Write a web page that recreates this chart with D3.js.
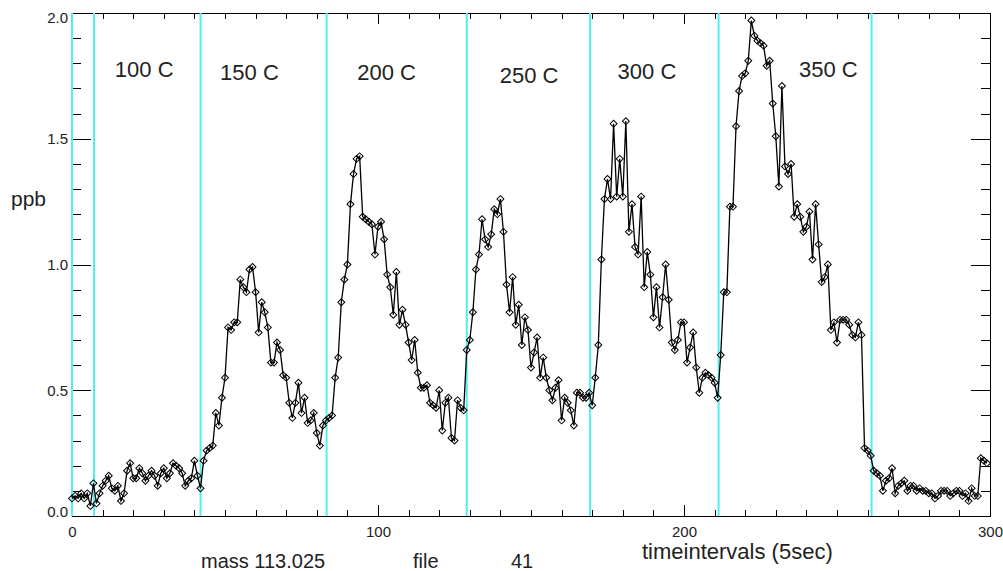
<!DOCTYPE html>
<html lang="en">
<head>
    <meta charset="UTF-8">
    <title>mass 113.025 - ppb vs timeintervals</title>
    <script src="https://d3js.org/d3.v7.min.js"></script>
    <style>
        body {
            margin: 0;
            background-color: #ffffff;
        }

        svg {
            display: block;
            font-family: "Liberation Sans", Arial, sans-serif;
        }

        .axis path {
            display: none;
        }

        .axis line {
            stroke: #000;
            shape-rendering: crispEdges;
        }

        .axis text {
            font-size: 15px;
            fill: #222;
        }
    </style>
</head>
<body>

<svg width="1003" height="571"></svg>

<script>
    // ppb value for each 5 sec time interval (index 0..299)
    const ppb = [
        0.07, 0.08, 0.07, 0.09, 0.07, 0.09, 0.04, 0.13, 0.05, 0.09,
        0.12, 0.14, 0.16, 0.11, 0.10, 0.12, 0.06, 0.09, 0.18, 0.21,
        0.15, 0.15, 0.19, 0.17, 0.14, 0.16, 0.18, 0.16, 0.12, 0.17,
        0.19, 0.15, 0.17, 0.21, 0.20, 0.19, 0.17, 0.12, 0.14, 0.15,
        0.22, 0.16, 0.11, 0.22, 0.26, 0.27, 0.28, 0.41, 0.36, 0.47,
        0.55, 0.75, 0.74, 0.77, 0.77, 0.94, 0.91, 0.89, 0.98, 0.99,
        0.89, 0.73, 0.85, 0.81, 0.75, 0.61, 0.61, 0.69, 0.66, 0.56,
        0.55, 0.45, 0.39, 0.45, 0.53, 0.41, 0.47, 0.37, 0.38, 0.41,
        0.33, 0.28, 0.36, 0.38, 0.39, 0.40, 0.55, 0.63, 0.85, 0.94,
        1.00, 1.24, 1.36, 1.42, 1.43, 1.19, 1.18, 1.17, 1.16, 1.04,
        1.15, 1.17, 1.10, 0.96, 0.91, 0.80, 0.97, 0.76, 0.82, 0.76,
        0.69, 0.62, 0.70, 0.57, 0.51, 0.51, 0.52, 0.45, 0.44, 0.43,
        0.50, 0.34, 0.45, 0.47, 0.31, 0.30, 0.46, 0.43, 0.42, 0.66,
        0.70, 0.81, 0.98, 1.04, 1.18, 1.10, 1.07, 1.12, 1.22, 1.20,
        1.26, 1.13, 0.92, 0.81, 0.95, 0.76, 0.84, 0.68, 0.79, 0.74,
        0.59, 0.65, 0.71, 0.55, 0.63, 0.55, 0.50, 0.46, 0.51, 0.54,
        0.38, 0.47, 0.45, 0.42, 0.36, 0.49, 0.49, 0.47, 0.47, 0.49,
        0.44, 0.55, 0.68, 1.02, 1.26, 1.34, 1.26, 1.56, 1.27, 1.42,
        1.27, 1.57, 1.13, 1.24, 1.07, 1.04, 1.27, 0.91, 1.05, 0.96,
        0.79, 0.91, 0.75, 0.87, 1.00, 0.86, 0.69, 0.66, 0.70, 0.77,
        0.77, 0.61, 0.67, 0.73, 0.59, 0.49, 0.55, 0.57, 0.56, 0.55,
        0.53, 0.47, 0.64, 0.89, 0.89, 1.23, 1.23, 1.55, 1.69, 1.75,
        1.76, 1.81, 1.97, 1.91, 1.89, 1.88, 1.87, 1.79, 1.81, 1.64,
        1.51, 1.31, 1.71, 1.39, 1.36, 1.40, 1.19, 1.24, 1.19, 1.13,
        1.15, 1.21, 1.02, 1.24, 1.08, 0.93, 0.95, 1.00, 0.74, 0.77,
        0.69, 0.78, 0.78, 0.78, 0.76, 0.72, 0.71, 0.77, 0.72, 0.27,
        0.26, 0.24, 0.18, 0.17, 0.16, 0.10, 0.14, 0.15, 0.19, 0.09,
        0.12, 0.13, 0.14, 0.10, 0.12, 0.12, 0.10, 0.11, 0.10, 0.10,
        0.09, 0.09, 0.07, 0.08, 0.10, 0.10, 0.10, 0.08, 0.09, 0.10,
        0.10, 0.08, 0.09, 0.06, 0.11, 0.08, 0.08, 0.23, 0.22, 0.21
    ];

    // temperature step boundaries (time interval index)
    const stepBounds = [0, 7.2, 42, 83.2, 129, 169.3, 211.3, 261.3];

    // temperature labels and where they sit (x in intervals, y in ppb)
    const tempLabels = ["100 C", "150 C", "200 C", "250 C", "300 C", "350 C"];
    const tempLabelX = [14, 48.4, 93.2, 139.8, 178.3, 237.6];
    const tempLabelY = [1.745, 1.735, 1.733, 1.72, 1.738, 1.745];

    // axis ticks
    const xMajorTicks = [0, 100, 200, 300];
    const xMinorTicks = d3.range(0, 301, 10);
    const yMajorTicks = [0, 0.5, 1.0, 1.5, 2.0];
    const yMinorTicks = d3.range(0, 21).map(d => d / 10);

    const svg = d3.select("svg");

    const plot = {left: 72, right: 990, top: 13, bottom: 516};

    const x = d3.scaleLinear()
        .domain([0, 300])
        .range([plot.left, plot.right]);

    const y = d3.scaleLinear()
        .domain([0, 2])
        .range([plot.bottom, plot.top]);

    svg.append("rect")
        .attr("width", 1003)
        .attr("height", 571)
        .attr("fill", "#fff");

    // ticks (all pointing inward, IDL style)
    function addAxis(axis, tx, ty) {
        return svg.append("g")
            .attr("class", "axis")
            .attr("transform", `translate(${tx},${ty})`)
            .call(axis);
    }

    addAxis(d3.axisBottom(x).tickValues(xMinorTicks).tickSize(-6).tickFormat(""), 0, plot.bottom);
    addAxis(d3.axisBottom(x).tickValues(xMajorTicks).tickSize(-11).tickPadding(10).tickFormat(d3.format("d")), 0, plot.bottom);
    addAxis(d3.axisTop(x).tickValues(xMinorTicks).tickSize(-6).tickFormat(""), 0, plot.top);
    addAxis(d3.axisTop(x).tickValues(xMajorTicks).tickSize(-11).tickFormat(""), 0, plot.top);

    addAxis(d3.axisLeft(y).tickValues(yMinorTicks).tickSize(-9).tickFormat(""), plot.left, 0);
    const yLab = addAxis(d3.axisLeft(y).tickValues(yMajorTicks).tickSize(-19).tickPadding(4).tickFormat(d3.format(".1f")), plot.left, 0);
    addAxis(d3.axisRight(y).tickValues(yMinorTicks).tickSize(-9).tickFormat(""), plot.right, 0);
    addAxis(d3.axisRight(y).tickValues(yMajorTicks).tickSize(-19).tickFormat(""), plot.right, 0);

    // keep the end labels inside the frame
    yLab.selectAll("text")
        .attr("dy", d => d === 0 ? "0.0em" : d === 2 ? "0.62em" : "0.32em");

    // frame
    svg.append("rect")
        .attr("x", plot.left + 0.5)
        .attr("y", plot.top + 0.5)
        .attr("width", plot.right - plot.left)
        .attr("height", plot.bottom - plot.top)
        .attr("fill", "none")
        .attr("stroke", "#000");

    // temperature step lines
    svg.append("g")
        .selectAll("line")
        .data(stepBounds)
        .join("line")
        .attr("x1", d => x(d))
        .attr("x2", d => x(d))
        .attr("y1", plot.top)
        .attr("y2", plot.bottom)
        .attr("stroke", "#55eeee")
        .attr("stroke-width", 2);

    // data line
    const line = d3.line()
        .x((d, i) => x(i))
        .y(d => y(d));

    svg.append("path")
        .datum(ppb)
        .attr("d", line)
        .attr("fill", "none")
        .attr("stroke", "#000")
        .attr("stroke-width", 1.3);

    // open diamonds
    const diamond = d3.symbol().type(d3.symbolSquare).size(24);

    svg.append("g")
        .selectAll("path")
        .data(ppb)
        .join("path")
        .attr("transform", (d, i) => `translate(${x(i)},${y(d)}) rotate(45)`)
        .attr("d", diamond)
        .attr("fill", "none")
        .attr("stroke", "#000")
        .attr("stroke-width", 1);

    // temperature labels
    svg.append("g")
        .selectAll("text")
        .data(tempLabels)
        .join("text")
        .attr("x", (d, i) => x(tempLabelX[i]))
        .attr("y", (d, i) => y(tempLabelY[i]))
        .attr("font-size", 22)
        .attr("fill", "#222")
        .text(d => d);

    // titles
    svg.append("text")
        .attr("x", 11)
        .attr("y", 206)
        .attr("font-size", 21)
        .attr("fill", "#222")
        .text("ppb");

    svg.append("text")
        .attr("x", 642)
        .attr("y", 559)
        .attr("font-size", 22)
        .attr("fill", "#222")
        .text("timeintervals (5sec)");

    const info = svg.append("g")
        .attr("font-size", 20)
        .attr("fill", "#222");

    info.append("text").attr("x", 201).attr("y", 568).text("mass  113.025");
    info.append("text").attr("x", 413).attr("y", 568).text("file");
    info.append("text").attr("x", 511).attr("y", 568).text("41");
</script>

</body>
</html>
